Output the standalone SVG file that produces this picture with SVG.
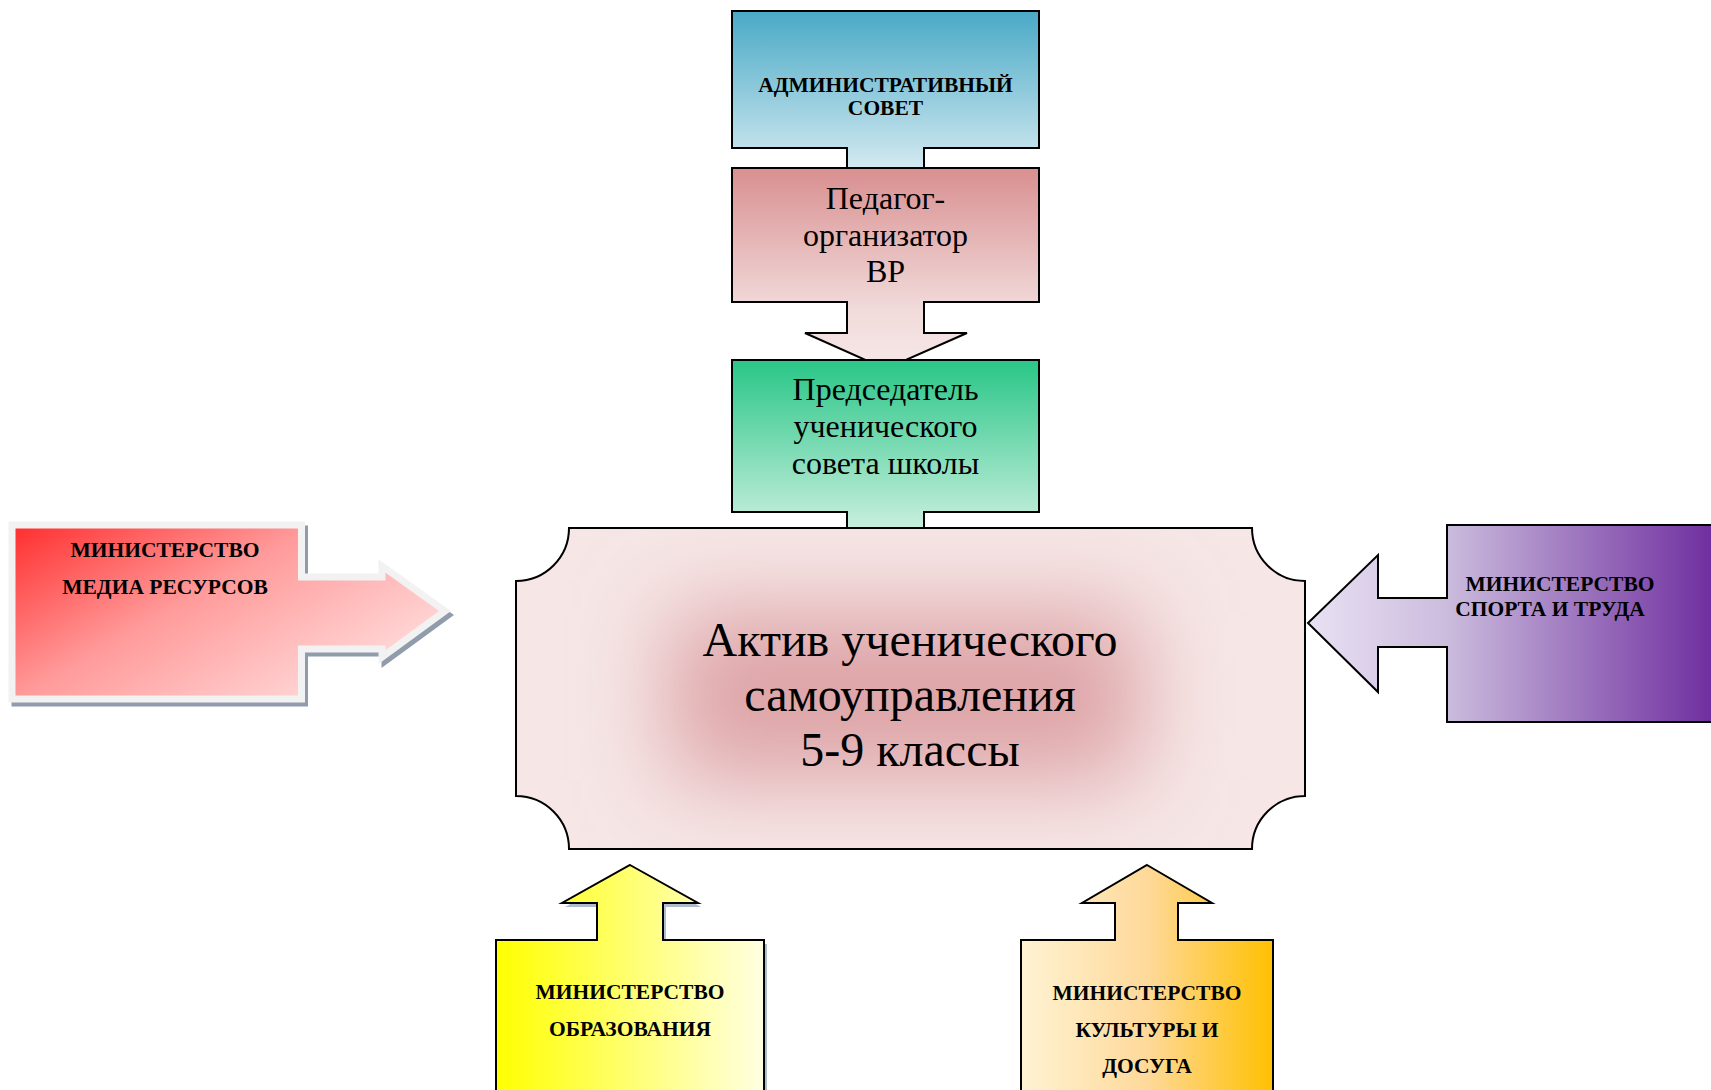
<svg xmlns="http://www.w3.org/2000/svg" width="1711" height="1090" viewBox="0 0 1711 1090">
  <style>
    .shape { stroke: #000; stroke-width: 2; stroke-linejoin: miter; }
    .reg { font-family: "Liberation Serif", "Times New Roman", serif; fill: #000; text-anchor: middle; }
    .bold { font-family: "Liberation Serif", "Times New Roman", serif; font-weight: bold; font-size: 21.5px; fill: #000; text-anchor: middle; }
  </style>
  <defs>
    <linearGradient id="gAdmin" gradientUnits="userSpaceOnUse" x1="0" y1="11" x2="0" y2="170">
      <stop offset="0" stop-color="#49a9c6"/>
      <stop offset="1" stop-color="#d4eaf1"/>
    </linearGradient>
    <linearGradient id="gPed" gradientUnits="userSpaceOnUse" x1="0" y1="168" x2="0" y2="368">
      <stop offset="0" stop-color="#d98f90"/>
      <stop offset="0.7" stop-color="#f1dada"/>
      <stop offset="1" stop-color="#f7e8e8"/>
    </linearGradient>
    <linearGradient id="gGreen" gradientUnits="userSpaceOnUse" x1="0" y1="360" x2="0" y2="530">
      <stop offset="0" stop-color="#29c687"/>
      <stop offset="1" stop-color="#c9efdf"/>
    </linearGradient>
    <linearGradient id="gRed" gradientUnits="userSpaceOnUse" x1="16" y1="528" x2="164" y2="782">
      <stop offset="0" stop-color="#ff3030"/>
      <stop offset="0.5" stop-color="#ff9a9a"/>
      <stop offset="1" stop-color="#ffd4d4"/>
    </linearGradient>
    <linearGradient id="gPurple" gradientUnits="userSpaceOnUse" x1="1308" y1="0" x2="1711" y2="0">
      <stop offset="0" stop-color="#e9e1f3"/>
      <stop offset="0.345" stop-color="#cbbcdd"/>
      <stop offset="1" stop-color="#7030a0"/>
    </linearGradient>
    <linearGradient id="gYellow" gradientUnits="userSpaceOnUse" x1="496" y1="0" x2="764" y2="0">
      <stop offset="0" stop-color="#ffff00"/>
      <stop offset="1" stop-color="#ffffe2"/>
    </linearGradient>
    <linearGradient id="gOrange" gradientUnits="userSpaceOnUse" x1="1021" y1="0" x2="1273" y2="0">
      <stop offset="0" stop-color="#fff3d3"/>
      <stop offset="0.5" stop-color="#fed99a"/>
      <stop offset="1" stop-color="#ffc000"/>
    </linearGradient>
    <clipPath id="centerClip">
      <path d="M569,528 H1252 A53,53 0 0 0 1305,581 V796 A53,53 0 0 0 1252,849 H569 A53,53 0 0 0 516,796 V581 A53,53 0 0 0 569,528 Z"/>
    </clipPath>
    <filter id="blur" x="-50%" y="-80%" width="200%" height="260%">
      <feGaussianBlur stdDeviation="45"/>
    </filter>
  </defs>

  <!-- АДМИНИСТРАТИВНЫЙ СОВЕТ -->
  <g id="node-admin">
    <path class="shape" fill="url(#gAdmin)" d="M732,11 H1039 V148 H924 V170 H847 V148 H732 Z"/>
    <text class="bold" x="885.5" y="92">АДМИНИСТРАТИВНЫЙ</text>
    <text class="bold" x="885.5" y="115">СОВЕТ</text>
  </g>

  <!-- Педагог-организатор ВР -->
  <g id="node-pedagog">
    <path class="shape" fill="url(#gPed)" d="M732,168 H1039 V302 H924 V333 H967 L885.5,369 L805,333 H847 V302 H732 Z"/>
    <text class="reg" font-size="32" x="885.5" y="209">Педагог-</text>
    <text class="reg" font-size="32" x="885.5" y="246">организатор</text>
    <text class="reg" font-size="32" x="885.5" y="282">ВР</text>
  </g>

  <!-- Председатель ученического совета школы -->
  <g id="node-chair">
    <path class="shape" fill="url(#gGreen)" d="M732,360 H1039 V512 H924 V530 H847 V512 H732 Z"/>
    <text class="reg" font-size="32" x="885.5" y="400">Председатель</text>
    <text class="reg" font-size="32" x="885.5" y="437">ученического</text>
    <text class="reg" font-size="32" x="885.5" y="474">совета школы</text>
  </g>

  <!-- Актив ученического самоуправления -->
  <g id="node-center">
    <path fill="#f6e6e6" d="M569,528 H1252 A53,53 0 0 0 1305,581 V796 A53,53 0 0 0 1252,849 H569 A53,53 0 0 0 516,796 V581 A53,53 0 0 0 569,528 Z"/>
    <g clip-path="url(#centerClip)">
      <rect x="670" y="610" width="470" height="170" fill="#dea4a7" filter="url(#blur)"/>
    </g>
    <path class="shape" fill="none" d="M569,528 H1252 A53,53 0 0 0 1305,581 V796 A53,53 0 0 0 1252,849 H569 A53,53 0 0 0 516,796 V581 A53,53 0 0 0 569,528 Z"/>
    <text class="reg" font-size="48" x="910" y="656">Актив ученического</text>
    <text class="reg" font-size="48" x="910" y="711">самоуправления</text>
    <text class="reg" font-size="48" x="910" y="766">5-9 классы</text>
  </g>

  <!-- МИНИСТЕРСТВО МЕДИА РЕСУРСОВ -->
  <g id="node-media">
    <path transform="translate(3,4)" fill="#909cab" stroke="#909cab" stroke-width="7" stroke-linejoin="miter" d="M12,525 H301.5 V577 H382 V566 L445,611 L382,657 V649 H301.5 V699 H12 Z"/>
    <path fill="url(#gRed)" stroke="#f2f2f2" stroke-width="7" stroke-linejoin="miter" d="M12,525 H301.5 V577 H382 V566 L445,611 L382,657 V649 H301.5 V699 H12 Z"/>
    <text class="bold" x="165" y="557">МИНИСТЕРСТВО</text>
    <text class="bold" x="165" y="594">МЕДИА РЕСУРСОВ</text>
  </g>

  <!-- МИНИСТЕРСТВО СПОРТА И ТРУДА -->
  <g id="node-sport">
    <path class="shape" fill="url(#gPurple)" d="M1308,623 L1378,555 V598 H1447 V525 H1714 V722 H1447 V647 H1378 V692 Z"/>
    <text class="bold" x="1560" y="591">МИНИСТЕРСТВО</text>
    <text class="bold" x="1550" y="616">СПОРТА И ТРУДА</text>
  </g>

  <!-- МИНИСТЕРСТВО ОБРАЗОВАНИЯ -->
  <g id="node-education">
    <path transform="translate(3,4)" fill="#aebccb" d="M630,865 L698,903 H663 V940 H764 V1095 H496 V940 H597 V903 H562 Z"/>
    <path class="shape" fill="url(#gYellow)" d="M630,865 L698,903 H663 V940 H764 V1095 H496 V940 H597 V903 H562 Z"/>
    <text class="bold" x="630" y="999">МИНИСТЕРСТВО</text>
    <text class="bold" x="630" y="1036">ОБРАЗОВАНИЯ</text>
  </g>

  <!-- МИНИСТЕРСТВО КУЛЬТУРЫ И ДОСУГА -->
  <g id="node-culture">
    <path class="shape" fill="url(#gOrange)" d="M1147,865 L1212,903 H1178 V940 H1273 V1095 H1021 V940 H1115 V903 H1082 Z"/>
    <text class="bold" x="1147" y="1000">МИНИСТЕРСТВО</text>
    <text class="bold" x="1147" y="1037">КУЛЬТУРЫ И</text>
    <text class="bold" x="1147" y="1073">ДОСУГА</text>
  </g>
</svg>
